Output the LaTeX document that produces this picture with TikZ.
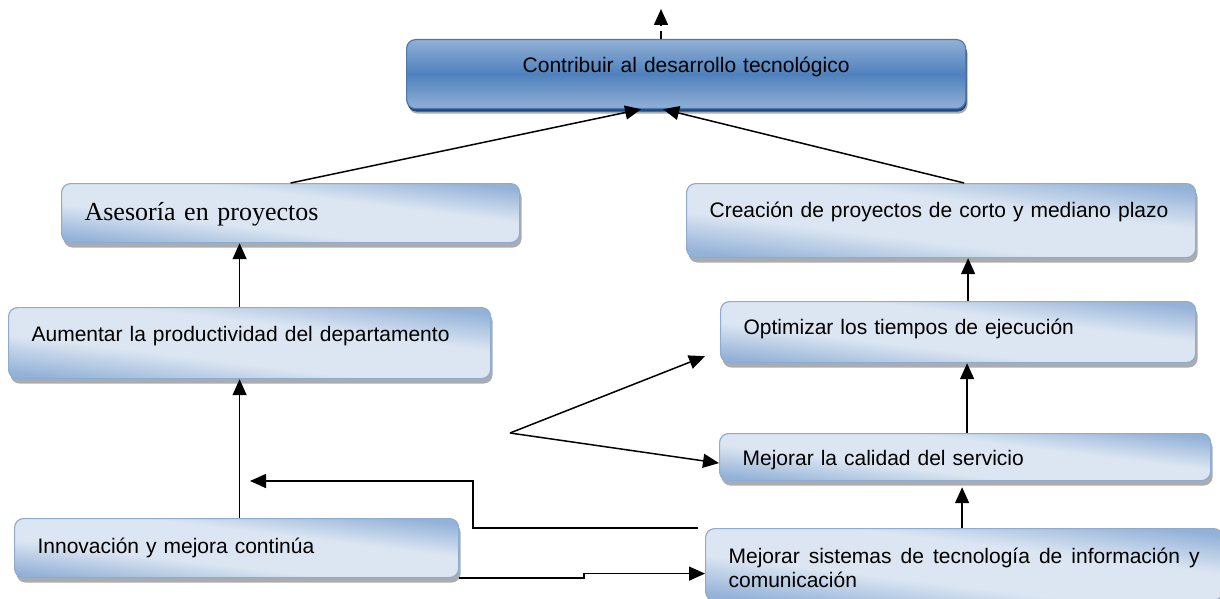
\documentclass[tikz,border=0pt]{standalone}
\usepackage{fontspec}
\setmainfont{Liberation Sans}
\newfontfamily\timesfont{Liberation Serif}
\usepackage{tikz}
\usetikzlibrary{arrows.meta,shadows}
\definecolor{boxedge}{RGB}{140,172,212}
\definecolor{boxlight}{RGB}{220,230,242}
\definecolor{boxdark}{RGB}{148,178,216}
\definecolor{topdark}{RGB}{79,129,189}
\definecolor{toplight}{RGB}{146,176,214}
\definecolor{topedge}{RGB}{74,122,182}
\definecolor{topshadow}{RGB}{44,72,112}
\pgfdeclareverticalshading{goalshade}{100bp}{color(0bp)=(boxdark); color(25bp)=(boxdark);
  color(41bp)=(boxlight); color(59bp)=(boxlight); color(75bp)=(boxdark); color(100bp)=(boxdark)}
\tikzset{
  goal/.style={draw=boxedge, line width=1.2pt, rounded corners=9pt,
    shade, shading=goalshade, shading angle=-7,
    drop shadow={shadow xshift=2pt, shadow yshift=-5pt, fill=gray!65, opacity=1},
    anchor=north west, align=left, inner xsep=23pt, inner ysep=0pt, text height=34pt,
    font=\fontsize{21}{24}\selectfont},
  mainbox/.style={goal, draw=topedge, top color=toplight, bottom color=toplight,
    middle color=topdark, shading angle=0, align=center,
    drop shadow={shadow xshift=1pt, shadow yshift=-3pt, fill=topshadow, opacity=1}},
  arr/.style={-{Triangle[length=16pt,width=14pt]}, line width=1.5pt}
}
\begin{document}
\begin{tikzpicture}[x=1pt,y=-1pt]
\useasboundingbox (0,0) rectangle (1220,599);
\node[mainbox, text width=513pt, text height=33pt, text depth=36pt] (top) at (406,39) {Contribuir al desarrollo tecnológico};
\node[goal, text width=412pt, text height=37pt, text depth=22pt, font=\timesfont\fontsize{26}{30}\selectfont] (ases) at (61,183) {Asesoría en proyectos};
\node[goal, text width=436pt, text depth=37pt] (aum) at (8,307) {Aumentar la productividad del departamento};
\node[goal, text width=398pt, text height=35pt, text depth=24pt] (innov) at (14,518) {Innovación y mejora continúa};
\node[goal, text width=463pt, text depth=40pt] (crea) at (686,183) {\mbox{Creación de proyectos de corto y mediano plazo}};
\node[goal, text width=429pt, text height=33pt, text depth=28pt] (opt) at (720,301) {Optimizar los tiempos de ejecución};
\node[goal, text width=445pt, text height=32pt, text depth=15pt] (cal) at (719,433) {Mejorar la calidad del servicio};
\node[goal, text width=471pt, text height=35pt, text depth=37pt, align=justify] (sis) at (705,528) {Mejorar sistemas de tecnología de información y comunicación};
\coordinate (out) at (661,9);
\coordinate (back) at (250,481);
\coordinate (fork) at (510,433);
\coordinate (sisup) at ([xshift=-2pt]sis.north);
\draw[arr, dash pattern=on 8pt off 6pt] (out |- top.north) -- (out);
\path[arr]
  (ases.north) edge ([xshift=-45pt]top.south)
  ([xshift=23pt]crea.north) edge ([xshift=-23pt]top.south)
  ([xshift=-10pt]aum.north) edge ([xshift=-10pt]aum.north |- ases.south)
  ([xshift=3pt]innov.north) edge ([xshift=3pt]innov.north |- aum.south)
  ([xshift=10pt]opt.north) edge ([xshift=10pt]opt.north |- crea.south)
  ([xshift=2pt]cal.north) edge ([xshift=2pt]cal.north |- opt.south)
  (sisup) edge ([yshift=-6pt]cal.south -| sisup)
  (fork) edge ([shift={(-15pt,7pt)}]opt.south west)
  (fork) edge ([yshift=-6pt]cal.west);
\draw[arr] ([xshift=-7pt]sis.north west) -- ++(-225,0) |- (back);
\draw[arr] (innov.south east) -- ++(125,0) |- ([yshift=-9pt]sis.west);
\end{tikzpicture}
\end{document}
